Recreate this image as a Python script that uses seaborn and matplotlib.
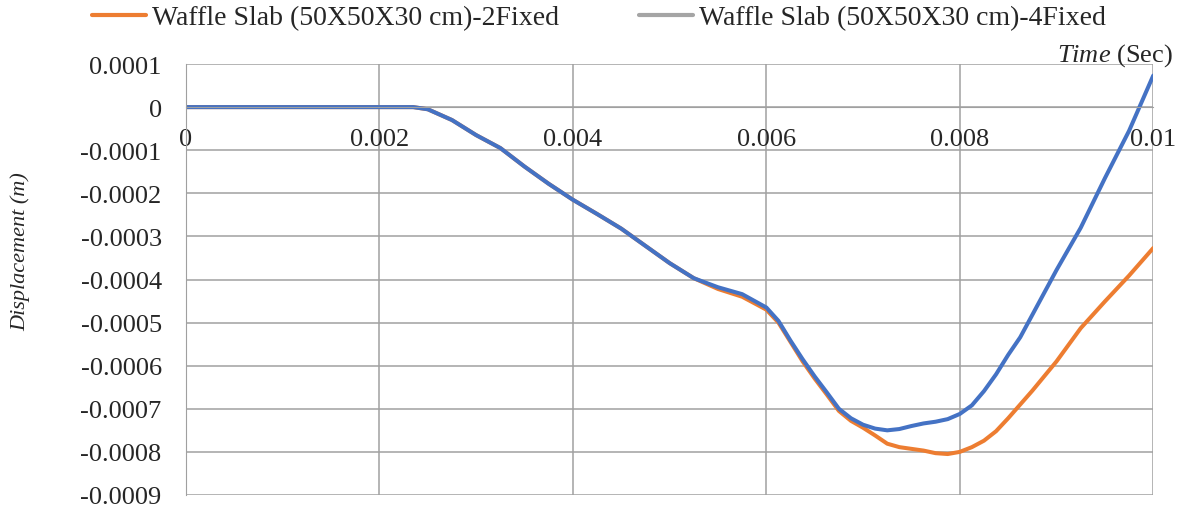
import numpy as np
import pandas as pd
import seaborn as sns
import matplotlib.pyplot as plt
from matplotlib.lines import Line2D
from matplotlib.ticker import FuncFormatter

# time (sec), finer where the curves bend
time = [0, 0.0005, 0.001, 0.0015, 0.002, 0.00235, 0.0025, 0.00275, 0.003, 0.00325,
        0.0035, 0.00375, 0.004, 0.00425, 0.0045, 0.00475, 0.005, 0.00525, 0.0055, 0.00575,
        0.006, 0.006125, 0.00625, 0.006375, 0.0065, 0.006625, 0.00675, 0.006875, 0.007, 0.007125,
        0.00725, 0.007375, 0.0075, 0.007625, 0.00775, 0.007875, 0.008, 0.008125, 0.00825, 0.008375,
        0.0085, 0.008625, 0.00875, 0.008875, 0.009, 0.00925, 0.0095, 0.00975, 0.01]

# displacement (m)
disp_2fixed = [0, 0, 0, 0, 0, 0, -0.000005, -0.00003, -0.000065, -0.000095,
               -0.000138, -0.000178, -0.000215, -0.000248, -0.000282, -0.000322, -0.000362, -0.000397, -0.000422, -0.000440,
               -0.000470, -0.000500, -0.000545, -0.000590, -0.000630, -0.000667, -0.000705, -0.000728, -0.000744, -0.000762,
               -0.000781, -0.000789, -0.000793, -0.000797, -0.000803, -0.000805, -0.000800, -0.000789, -0.000774, -0.000752,
               -0.000722, -0.000690, -0.000658, -0.000624, -0.000590, -0.000513, -0.000451, -0.000391, -0.000327]
disp_4fixed = [0, 0, 0, 0, 0, 0, -0.000005, -0.00003, -0.000065, -0.000095,
               -0.000138, -0.000178, -0.000215, -0.000248, -0.000282, -0.000322, -0.000362, -0.000397, -0.000418, -0.000434,
               -0.000465, -0.000496, -0.000542, -0.000585, -0.000625, -0.000662, -0.000700, -0.000722, -0.000737, -0.000746,
               -0.000750, -0.000747, -0.000740, -0.000734, -0.000730, -0.000724, -0.000712, -0.000692, -0.000659, -0.000620,
               -0.000575, -0.000534, -0.000482, -0.000430, -0.000378, -0.000280, -0.000165, -0.000055, 0.0000733]

names = ["Waffle Slab (50X50X30 cm)-2Fixed", "Waffle Slab (50X50X30 cm)-4Fixed"]

df = pd.DataFrame({
    "time": time * 2,
    "disp": disp_2fixed + disp_4fixed,
    "series": [names[0]] * len(time) + [names[1]] * len(time),
})

sns.set_style("white")
plt.rcParams["font.family"] = ["Liberation Serif", "DejaVu Serif"]
plt.rcParams["mathtext.fontset"] = "custom"
plt.rcParams["mathtext.rm"] = "Liberation Serif"
plt.rcParams["mathtext.it"] = "Liberation Serif:italic"

fig = plt.figure(figsize=(11.81, 5.10), dpi=100)
ax = fig.add_axes([0.1575, 0.0275, 0.819, 0.845])

sns.lineplot(data=df, x="time", y="disp", hue="series",
             palette={names[0]: "#ED7D31", names[1]: "#4472C4"},
             linewidth=2.9, ax=ax, legend=False)

ax.set_xlim(0, 0.01)
ax.set_ylim(-0.0009, 0.0001)
ax.set_xticks(np.arange(0, 0.0101, 0.002))
ax.set_yticks(np.arange(-0.0009, 0.00011, 0.0001))

fmt = FuncFormatter(lambda v, p: "{:g}".format(round(v, 6)) if abs(v) > 1e-12 else "0")
ax.xaxis.set_major_formatter(fmt)
ax.yaxis.set_major_formatter(fmt)

ax.grid(True, color="#a0a0a0", linewidth=1.1)
for s in ["top", "right"]:
    ax.spines[s].set_visible(False)
ax.spines["bottom"].set_position(("data", 0))
ax.spines["bottom"].set_color("#a0a0a0")
ax.spines["left"].set_color("#a0a0a0")
ax.tick_params(axis="both", length=0, labelsize=19)
ax.tick_params(axis="x", pad=15)
ax.tick_params(axis="y", pad=17.5)

ax.set_xlabel("")
ax.set_ylabel("")
fig.text(0.017, 0.506, "Displacement (m)", rotation=90, ha="center", va="center",
         fontsize=16, style="italic")
fig.text(0.993, 0.880, r"$\mathit{Time}$ (Sec)", ha="right", va="baseline", fontsize=19)

handles = [Line2D([], [], color="#ED7D31", linewidth=3),
           Line2D([], [], color="#A5A5A5", linewidth=3)]
fig.legend(handles, names, loc="center", bbox_to_anchor=(0.507, 0.963), ncol=2,
           frameon=False, fontsize=20, handlelength=1.95, handletextpad=0.2,
           columnspacing=2.9)

fig.savefig("out.png", dpi=100)
